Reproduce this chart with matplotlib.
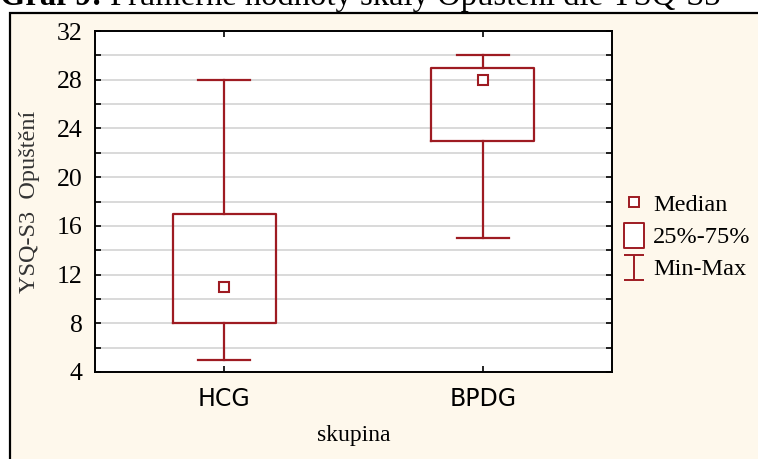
import matplotlib
matplotlib.use("Agg")
import matplotlib.pyplot as plt
from matplotlib.patches import Rectangle
from matplotlib.path import Path
from matplotlib.lines import Line2D

# ---- data ----
groups = ["HCG", "BPDG"]
medians = [11, 28]
q1 = [8, 23]
q3 = [17, 29]
mins = [5, 15]
maxs = [28, 30]
yticks = [4, 8, 12, 16, 20, 24, 28, 32]
legend_labels = ["Median", "25%-75%", "Min-Max"]

title_bold = "Graf 9:"
title_rest = " Průměrné hodnoty škály Opuštění dle YSQ-S3"
ylabel = "YSQ-S3  Opuštění"
xlabel = "skupina"

RED = "#9E1B22"
CREAM = "#FEF8EC"
SERIF = ["Liberation Serif", "DejaVu Serif"]

W, H = 758, 459
fig = plt.figure(figsize=(W / 100, H / 100), dpi=100, facecolor="white")

# outer frame
frame = Rectangle((9.5 / W, -0.2), 2.0, (H - 12.5) / H + 0.2,
                  transform=fig.transFigure, facecolor=CREAM,
                  edgecolor="black", linewidth=1.6, zorder=-10)
fig.patches.append(frame)

# title (partly cut off at top, as in the source)
t1 = fig.text(0.0 / W, 1 - 5 / H, title_bold, fontsize=23.5, fontweight="bold",
              family=SERIF, va="baseline", ha="left")
fig.canvas.draw()
bb = t1.get_window_extent()
fig.text(bb.x1 / W, 1 - 5 / H, title_rest, fontsize=23.5, family=SERIF,
         va="baseline", ha="left")

ax = fig.add_axes([95 / W, 1 - 372 / H, (612 - 95) / W, (372 - 31) / H])
ax.set_zorder(5)
ax.set_facecolor("white")

positions = list(range(len(groups)))
stats = []
for i in positions:
    stats.append(dict(med=medians[i], q1=q1[i], q3=q3[i],
                      whislo=mins[i], whishi=maxs[i], label=groups[i]))

lw = 1.6
ax.bxp(stats, positions=positions, widths=0.4, capwidths=0.2,
       showfliers=False, patch_artist=False,
       boxprops=dict(color=RED, linewidth=lw),
       whiskerprops=dict(color=RED, linewidth=lw),
       capprops=dict(color=RED, linewidth=lw),
       medianprops=dict(visible=False), zorder=3)
ax.plot(positions, medians, linestyle="none", marker="s", markersize=7.5,
        markerfacecolor="white", markeredgecolor=RED, markeredgewidth=1.5,
        zorder=4)

ax.set_xlim(-0.5, 1.5)
ax.set_ylim(4, 32)
ax.set_yticks(yticks)
ax.set_yticks([v + 2 for v in yticks[:-1]], minor=True)
ax.set_xticks(positions)
ax.set_xticklabels(groups)
ax.grid(True, which="both", axis="y", color="#d9d9d9", linewidth=1.4, zorder=1)
ax.set_axisbelow(True)

ax.tick_params(axis="y", which="both", direction="in", length=4, width=1.2,
               left=True, right=True, pad=9)
ax.tick_params(axis="x", direction="in", length=4, width=1.2, top=True,
               bottom=True, pad=11)
for lab in ax.get_yticklabels():
    lab.set_fontfamily(SERIF)
    lab.set_fontsize(18.5)
for lab in ax.get_xticklabels():
    lab.set_fontfamily(["DejaVu Sans"])
    lab.set_fontsize(17)
for sp in ax.spines.values():
    sp.set_linewidth(1.4)
    sp.set_color("black")

ax.set_ylabel(ylabel, family=SERIF, fontsize=17.5, color="#333333", labelpad=12)
ax.set_xlabel(xlabel, family=SERIF, fontsize=17, color="black", labelpad=10)

# legend markers
rect_path = Path([(-0.4, -0.5), (0.4, -0.5), (0.4, 0.5), (-0.4, 0.5), (-0.4, -0.5)],
                 [Path.MOVETO, Path.LINETO, Path.LINETO, Path.LINETO, Path.CLOSEPOLY])
ibeam_path = Path([(-0.4, 0.5), (0.4, 0.5), (0, 0.5), (0, -0.5), (-0.4, -0.5), (0.4, -0.5)],
                  [Path.MOVETO, Path.LINETO, Path.MOVETO, Path.LINETO, Path.MOVETO, Path.LINETO])
handles = [
    Line2D([], [], linestyle="none", marker="s", markersize=6.5,
           markerfacecolor="white", markeredgecolor=RED, markeredgewidth=1.4),
    Line2D([], [], linestyle="none", marker=rect_path, markersize=18,
           markerfacecolor="white", markeredgecolor=RED, markeredgewidth=1.4),
    Line2D([], [], linestyle="none", marker=ibeam_path, markersize=18,
           markerfacecolor="none", markeredgecolor=RED, markeredgewidth=1.4),
]
leg = fig.legend(handles, legend_labels, loc="center left",
                 bbox_to_anchor=(612 / W, 1 - 237 / H), frameon=False,
                 prop={"family": SERIF, "size": 17.5}, handlelength=1.0,
                 handletextpad=0.3, labelspacing=0.43, borderaxespad=0)
leg.set_zorder(6)

fig.savefig("out.png", dpi=100, facecolor="white")
